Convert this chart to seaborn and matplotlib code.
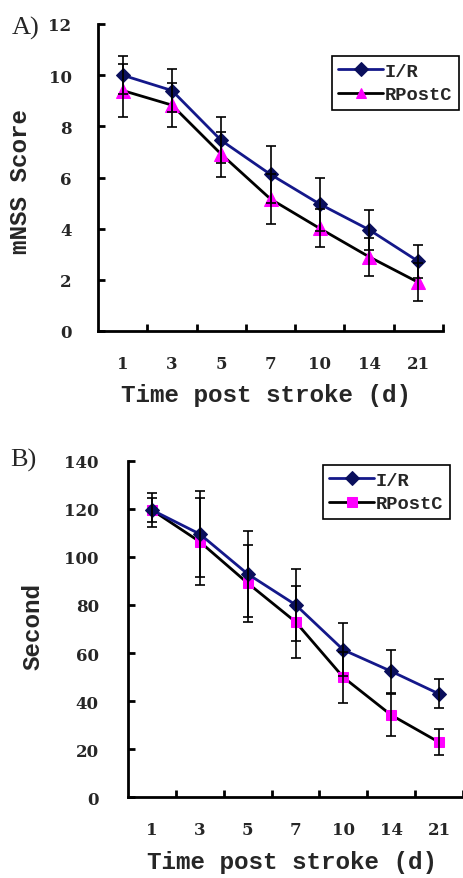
import matplotlib
matplotlib.use('Agg')
import matplotlib.pyplot as plt
import matplotlib.transforms as mtransforms
from matplotlib.font_manager import FontProperties
import numpy as np
import pandas as pd
import seaborn as sns

sns.set_theme(style='ticks')
plt.rcParams['font.family'] = ['DejaVu Serif']

days = ['1', '3', '5', '7', '10', '14', '21']

# A) mNSS score, mean and sd
mnss_ir = [10.0, 9.4, 7.45, 6.12, 4.96, 3.96, 2.72]
mnss_ir_sd = [0.75, 0.83, 0.9, 1.12, 1.04, 0.78, 0.65]
mnss_rpc = [9.4, 8.83, 6.91, 5.16, 4.01, 2.9, 1.9]
mnss_rpc_sd = [1.05, 0.87, 0.88, 0.98, 0.74, 0.75, 0.74]

# B) seconds, mean and sd
sec_ir = [119.5, 109.5, 92.9, 80.1, 61.3, 52.4, 43.0]
sec_ir_sd = [7, 17.8, 18, 15, 11, 9, 6]
sec_rpc = [119.5, 106.3, 89.1, 73.0, 49.9, 34.2, 22.9]
sec_rpc_sd = [5, 18, 16, 15, 10.5, 8.6, 5.5]

navy = '#14188a'
navy_mk = '#0a0f5c'
magenta = '#ff00ff'

mono = 'Liberation Mono'
tick_font = {'family': 'DejaVu Serif', 'weight': 'bold', 'size': 12}

fig = plt.figure(figsize=(4.63, 8.79), dpi=100)
axA = fig.add_axes([98 / 463, 1 - 332 / 879, 345 / 463, 307 / 879])
axB = fig.add_axes([128 / 463, 1 - 798.3 / 879, 335 / 463, 336.6 / 879])


def draw_panel(ax, ir, ir_sd, rpc, rpc_sd, rpc_marker, rpc_ms, ir_ms, ymax, ystep):
    x = np.arange(len(days))
    df = pd.DataFrame({'x': np.tile(x, 2), 'y': ir + rpc,
                       'group': ['I/R'] * len(days) + ['RPostC'] * len(days)})
    ax.errorbar(x, rpc, yerr=rpc_sd, fmt='none', ecolor='black', elinewidth=1.2,
                capsize=3.6, capthick=1.2, zorder=4)
    ax.errorbar(x, ir, yerr=ir_sd, fmt='none', ecolor='black', elinewidth=1.2,
                capsize=3.6, capthick=1.2, zorder=4)
    sns.lineplot(data=df[df['group'] == 'RPostC'], x='x', y='y', color='black', lw=2,
                 marker=rpc_marker, markersize=rpc_ms, markerfacecolor=magenta,
                 markeredgecolor=magenta, label='RPostC', ax=ax, zorder=3)
    sns.lineplot(data=df[df['group'] == 'I/R'], x='x', y='y', color=navy, lw=2,
                 marker='D', markersize=ir_ms, markerfacecolor=navy_mk,
                 markeredgecolor=navy_mk, label='I/R', ax=ax, zorder=3)

    ax.set_xlim(-0.5, len(days) - 0.5)
    ax.set_ylim(0, ymax)
    ax.set_yticks(np.arange(0, ymax + 1, ystep))
    ax.set_yticklabels([str(v) for v in np.arange(0, ymax + 1, ystep)], fontdict=tick_font)
    ax.set_xticks(x)
    ax.set_xticklabels(days, fontdict=tick_font)
    ax.set_xticks(list(x + 0.5), minor=True)
    sns.despine(ax=ax)
    for s in ['left', 'bottom']:
        ax.spines[s].set_linewidth(2)
        ax.spines[s].set_color('black')
    ax.tick_params(axis='y', direction='in', length=5, width=2, color='black')
    ax.tick_params(axis='x', which='major', length=0)
    ax.tick_params(axis='x', which='minor', direction='in', length=5, width=2, color='black')
    for lab in ax.get_xticklabels():
        lab.set_transform(lab.get_transform() +
                          mtransforms.ScaledTranslation(-5 / 100, 0, fig.dpi_scale_trans))
    ax.set_facecolor('white')

    handles, labels = ax.get_legend_handles_labels()
    order = [labels.index('I/R'), labels.index('RPostC')]
    return [handles[i] for i in order], [labels[i] for i in order]


hA, lA = draw_panel(axA, mnss_ir, mnss_ir_sd, mnss_rpc, mnss_rpc_sd, '^', 10, 7.5, 12, 2)
hB, lB = draw_panel(axB, sec_ir, sec_ir_sd, sec_rpc, sec_rpc_sd, 's', 7, 7.5, 140, 20)

axA.tick_params(axis='y', pad=19)
axA.tick_params(axis='x', pad=17)
axB.tick_params(axis='y', pad=21)
axB.tick_params(axis='x', pad=17)

leg_font = FontProperties(family=mono, weight='bold', size=13.5)
for ax, h, l, anchor in [(axA, hA, lA, (459 / 463, 1 - 57 / 879)),
                         (axB, hB, lB, (450 / 463, 1 - 466 / 879))]:
    leg = ax.legend(h, l, loc='upper right', bbox_to_anchor=anchor,
                    bbox_transform=fig.transFigure, frameon=True, fancybox=False,
                    edgecolor='black', framealpha=1, prop=leg_font, handlelength=2.4,
                    borderpad=0.35, labelspacing=0.35, handletextpad=0.1,
                    borderaxespad=0)
    leg.get_frame().set_linewidth(1.2)
    for line in leg.get_lines():
        line.set_markersize(7)

label_kw = dict(family=mono, size=17.5, weight='bold')
axA.set_xlabel('Time post stroke (d)', **label_kw)
axA.xaxis.set_label_coords(0.487, -0.17)
axA.set_ylabel('mNSS Score', **label_kw)
axA.yaxis.set_label_coords(-0.19, 0.489)

axB.set_xlabel('Time post stroke (d)', **label_kw)
axB.xaxis.set_label_coords(0.49, -0.158)
axB.set_ylabel('Second', **label_kw)
axB.yaxis.set_label_coords(-0.25, 0.51)

fig.text(12 / 463, 1 - 28 / 879, 'A)', family='Liberation Serif', size=19,
         ha='left', va='center')
fig.text(10 / 463, 1 - 460 / 879, 'B)', family='Liberation Serif', size=19,
         ha='left', va='center')

fig.savefig('out.png', dpi=100, facecolor='white')
